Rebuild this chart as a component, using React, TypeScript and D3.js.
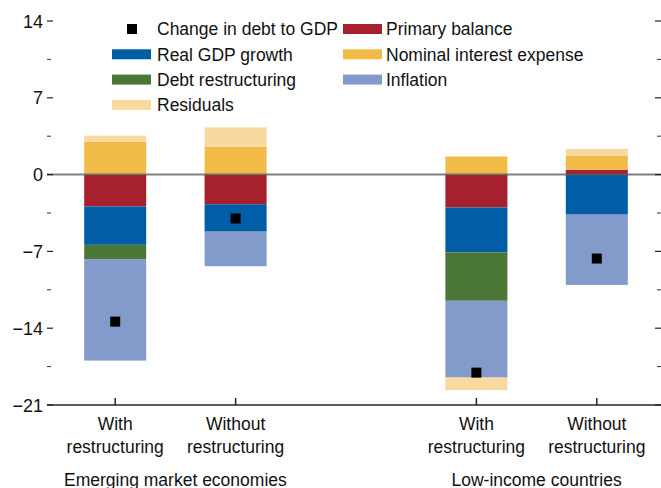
import React from "react";
import * as d3 from "d3";

const categories = ["EMwith", "EMwithout", "LICwith", "LICwithout"];
const catLine1 = ["With", "Without", "With", "Without"];
const catLine2 = ["restructuring", "restructuring", "restructuring", "restructuring"];
const groupLabels = ["Emerging market economies", "Low-income countries"];

const primaryBalance = [-2.9, -2.7, -3.0, 0.45];
const realGdpGrowth = [-3.5, -2.5, -4.1, -3.65];
const debtRestructuring = [-1.3, 0, -4.4, 0];
const nominalInterest = [3.0, 2.55, 1.65, 1.3];
const inflation = [-9.25, -3.15, -7.0, -6.4];
const residuals = [0.55, 1.75, -1.15, 0.6];
const changeInDebt = [-13.4, -4.0, -18.05, -7.65];

const yTicks = [-21, -14, -7, 0, 7, 14];
const yMinorTicks = [-17.5, -10.5, -3.5, 3.5, 10.5];

const seriesKeys = ["primary", "gdp", "restr", "nominal", "inflation", "resid"];
const seriesNames: Record<string, string> = {
  primary: "Primary balance",
  gdp: "Real GDP growth",
  restr: "Debt restructuring",
  nominal: "Nominal interest expense",
  inflation: "Inflation",
  resid: "Residuals",
};
const colors: Record<string, string> = {
  primary: "#A6202E",
  gdp: "#005DA6",
  restr: "#4A7636",
  nominal: "#F2BA46",
  inflation: "#839BCB",
  resid: "#F8D9A0",
};

const W = 661;
const H = 488;
const FONT = "'Liberation Sans', Arial, sans-serif";

export default function App() {
  const rows = categories.map((c, i) => ({
    cat: c,
    primary: primaryBalance[i],
    gdp: realGdpGrowth[i],
    restr: debtRestructuring[i],
    nominal: nominalInterest[i],
    inflation: inflation[i],
    resid: residuals[i],
  }));

  const x = d3
    .scaleBand<string>()
    .domain([categories[0], categories[1], "gap", categories[2], categories[3]])
    .range([55, 657])
    .paddingInner(0.485)
    .paddingOuter(0.2425);
  const y = d3.scaleLinear().domain([-21, 14]).range([405, 21]);

  const stacked = d3
    .stack<any>()
    .keys(seriesKeys)
    .offset(d3.stackOffsetDiverging)(rows);

  const bw = x.bandwidth();
  const cx = (c: string) => (x(c) as number) + bw / 2;

  const legendLeft = [
    { key: "marker", label: "Change in debt to GDP" },
    { key: "gdp", label: seriesNames.gdp },
    { key: "restr", label: seriesNames.restr },
    { key: "resid", label: seriesNames.resid },
  ];
  const legendRight = [
    { key: "primary", label: seriesNames.primary },
    { key: "nominal", label: seriesNames.nominal },
    { key: "inflation", label: seriesNames.inflation },
  ];
  const rowY = (i: number) => 29 + i * 25.3;

  return (
    <svg
      width={W}
      height={H}
      style={{ position: "absolute", left: 0, top: 0, background: "#fff" }}
      fontFamily={FONT}
    >
      {/* bars */}
      {stacked.map((s) => (
        <g key={s.key} fill={colors[s.key]}>
          {s.map((d, i) => {
            const y0 = y(d[0]);
            const y1 = y(d[1]);
            const h = Math.abs(y0 - y1);
            if (h < 0.01) return null;
            return (
              <rect
                key={i}
                x={x(categories[i])}
                y={Math.min(y0, y1)}
                width={bw}
                height={h}
              />
            );
          })}
        </g>
      ))}

      {/* zero line */}
      <line x1={47} x2={W} y1={y(0)} y2={y(0)} stroke="#555" strokeOpacity={0.75} strokeWidth={2} />

      {/* bottom axis */}
      <line x1={47} x2={W} y1={y(-21)} y2={y(-21)} stroke="#222" strokeWidth={1.5} />
      {categories.map((c) => (
        <line key={c} x1={cx(c)} x2={cx(c)} y1={y(-21)} y2={y(-21) - 7} stroke="#222" strokeWidth={1.5} />
      ))}

      {/* y ticks left & right */}
      {yTicks.map((t) => (
        <g key={t}>
          <line x1={47} x2={53} y1={y(t)} y2={y(t)} stroke="#222" strokeWidth={1.2} />
          <line x1={655} x2={W} y1={y(t)} y2={y(t)} stroke="#222" strokeWidth={1.2} />
          <text x={43} y={y(t) + 6.5} textAnchor="end" fontSize={18} fill="#111">
            {t < 0 ? "\u2212" + Math.abs(t) : String(t)}
          </text>
        </g>
      ))}
      {yMinorTicks.map((t) => (
        <g key={t}>
          <line x1={47} x2={51} y1={y(t)} y2={y(t)} stroke="#333" strokeWidth={1} />
          <line x1={657} x2={W} y1={y(t)} y2={y(t)} stroke="#333" strokeWidth={1} />
        </g>
      ))}

      {/* change in debt markers */}
      {changeInDebt.map((v, i) => (
        <rect key={i} x={cx(categories[i]) - 5} y={y(v) - 5} width={10} height={10} fill="#000" />
      ))}

      {/* category labels */}
      {categories.map((c, i) => (
        <g key={c} fontSize={17.5} fill="#111" textAnchor="middle">
          <text x={cx(c)} y={430}>{catLine1[i]}</text>
          <text x={cx(c)} y={453}>{catLine2[i]}</text>
        </g>
      ))}
      <text x={(cx(categories[0]) + cx(categories[1])) / 2} y={485.5} fontSize={17.5} textAnchor="middle" fill="#111">
        {groupLabels[0]}
      </text>
      <text x={(cx(categories[2]) + cx(categories[3])) / 2} y={485.5} fontSize={17.5} textAnchor="middle" fill="#111">
        {groupLabels[1]}
      </text>

      {/* legend */}
      {legendLeft.map((l, i) => (
        <g key={l.key}>
          {l.key === "marker" ? (
            <rect x={127} y={rowY(i) - 5} width={10} height={10} fill="#000" />
          ) : (
            <rect x={112} y={rowY(i) - 5} width={39} height={10} fill={colors[l.key]} />
          )}
          <text x={157} y={rowY(i) + 6.3} fontSize={17.5} fill="#111">{l.label}</text>
        </g>
      ))}
      {legendRight.map((l, i) => (
        <g key={l.key}>
          <rect x={343} y={rowY(i) - 5} width={39} height={10} fill={colors[l.key]} />
          <text x={386} y={rowY(i) + 6.3} fontSize={17.5} fill="#111">{l.label}</text>
        </g>
      ))}
    </svg>
  );
}
